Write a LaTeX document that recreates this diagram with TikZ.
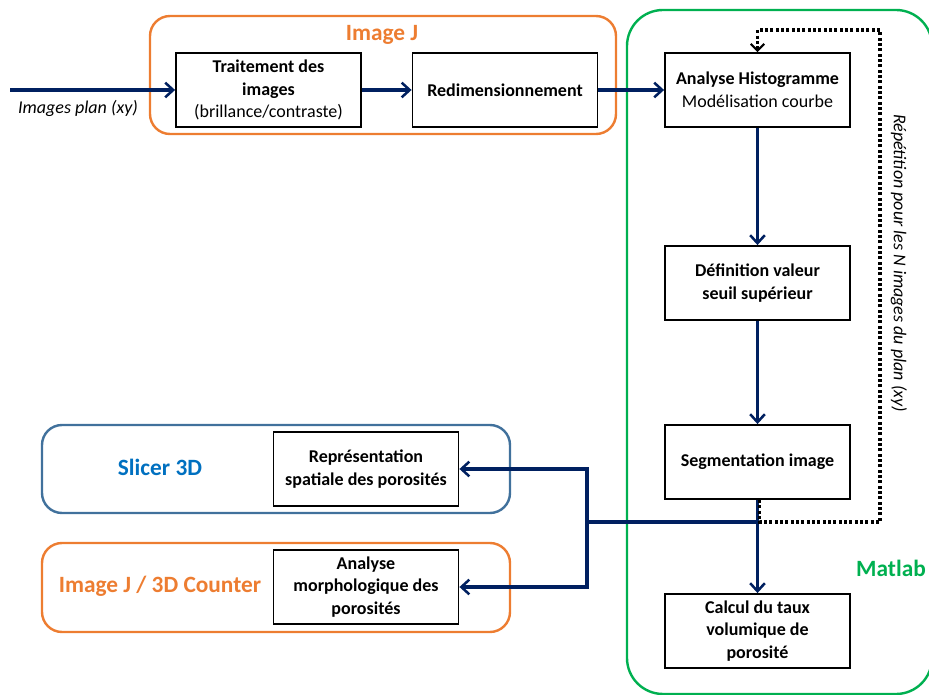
\documentclass[tikz,border=0pt]{standalone}
\usepackage{fontspec}
\setmainfont{Carlito}
\usetikzlibrary{arrows.meta,positioning}
\definecolor{navy}{HTML}{002060}
\definecolor{ijorange}{HTML}{ED7D31}
\definecolor{mlgreen}{HTML}{00B050}
\definecolor{slframe}{HTML}{41719C}
\definecolor{slblue}{HTML}{0070C0}

\begin{document}
\begin{tikzpicture}[x=0.75pt, y=-0.75pt,
	stepbox/.style={draw, line width=1.4pt, minimum width=138.75pt, minimum height=55.5pt,
		align=center, inner sep=2pt, font=\fontsize{13.5}{17}\selectfont\bfseries},
	groupbox/.style={line width=1.8pt, rounded corners=15pt},
	grouplabel/.style={font=\fontsize{17.5}{20}\selectfont\bfseries},
	flow/.style={draw=navy, line width=2.3pt, -{Straight Barb[length=6pt, width=11pt, line width=1.9pt]}},
	busline/.style={draw=navy, line width=2.3pt},
	loopline/.style={draw, line width=2.6pt, dash pattern=on 2.2pt off 1.8pt, -{Straight Barb[length=5pt, width=10pt, line width=1.6pt]}},
	note/.style={font=\fontsize{13.5}{16}\selectfont\itshape}]
\useasboundingbox (0,0) rectangle (929,695);

% cadres des logiciels
\draw[groupbox, draw=ijorange] (150,16) rectangle (616,134);
\draw[groupbox, draw=mlgreen, rounded corners=27pt] (627,10) rectangle (932,694);
\draw[groupbox, draw=slframe] (42,425) rectangle (510,513);
\draw[groupbox, draw=ijorange] (42,543) rectangle (510,632);

\node[grouplabel, text=ijorange] (lblij) at (382,35) {Image J};
\node[grouplabel, text=mlgreen] (lblml) at (891,568) {Matlab};
\node[grouplabel, text=slblue] (lblsl) at (160,467) {Slicer 3D};
\node[grouplabel, text=ijorange] (lblcount) at (160,586) {Image J / 3D Counter};

% etapes
\node[stepbox] (trait) at (268.5,90) {Traitement des\\images\\\mdseries(brillance/contraste)};
\node[stepbox] (redim) at (505,90) {Redimensionnement};
\node[stepbox] (histo) at (757.5,90) {Analyse Histogramme\\\mdseries Modélisation courbe};
\node[stepbox] (seuil) at (757.5,283) {Définition valeur\\seuil supérieur};
\node[stepbox] (segm) at (757.5,462) {Segmentation image};
\node[stepbox] (calcul) at (757.5,631) {Calcul du taux\\volumique de\\porosité};
\node[stepbox] (repres) at (366,469) {Représentation\\spatiale des porosités};
\node[stepbox] (morpho) at (366,587) {Analyse\\morphologique des\\porosités};

\coordinate (input) at (10,90);
\coordinate (split) at (758,522);
\coordinate (bus) at (587,522);
\coordinate (loopbr) at (880,522);
\coordinate (looptr) at (880,30);

\node[note] (lblin) at (78,108) {Images plan (xy)};
\node[note, rotate=-90] (lblloop) at (899,263) {Répétition pour les N images du plan (xy)};

% liaisons
\draw[flow] (input) -- (trait);
\draw[flow] (trait) -- (redim);
\draw[flow] (redim) -- (histo);
\draw[flow] (histo) -- (seuil);
\draw[flow] (seuil) -- (segm);
\draw[flow] (segm) -- (calcul);
\draw[busline] (split) -- (bus);
\draw[flow] (bus) |- (repres);
\draw[flow] (bus) |- (morpho);
\draw[loopline] (segm.south) ++(2,0) |- (loopbr) -- (looptr) -| (histo.north);
\end{tikzpicture}
\end{document}
